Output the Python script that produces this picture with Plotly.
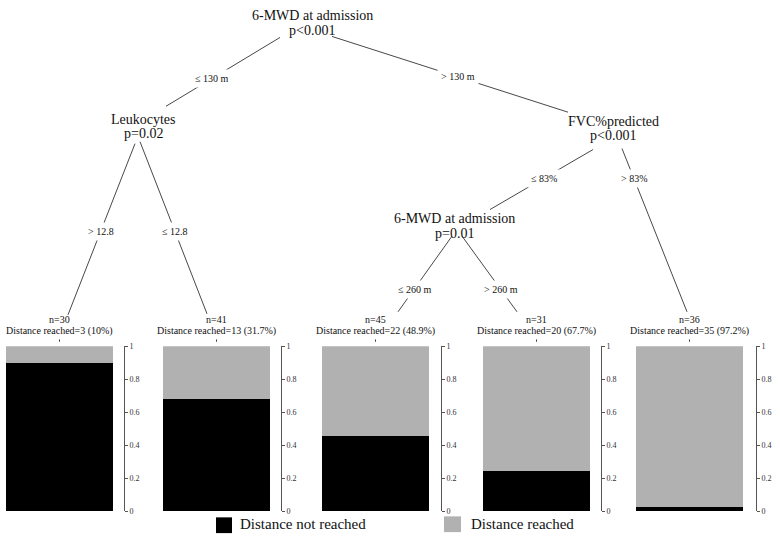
import plotly.graph_objects as go

# ---- data ----
node_names = ["6-MWD at admission", "Leukocytes", "FVC%predicted", "6-MWD at admission"]
node_pvals = ["p<0.001", "p=0.02", "p<0.001", "p=0.01"]
split_labels = ["≤ 130 m", "> 130 m", "> 12.8", "≤ 12.8", "≤ 83%", "> 83%", "≤ 260 m", "> 260 m"]

leaf_n = [30, 41, 45, 31, 36]
leaf_reached = [3, 13, 22, 20, 35]
leaf_pct = ["10%", "31.7%", "48.9%", "67.7%", "97.2%"]
share_not_reached = [0.90, 0.68, 0.455, 0.245, 0.025]
share_reached = [0.10, 0.32, 0.545, 0.755, 0.975]

tick_vals = [0, 0.2, 0.4, 0.6, 0.8, 1]
tick_text = ["0", "0.2", "0.4", "0.6", "0.8", "1"]

# ---- layout in pixels (figure is 780 x 544) ----
W, H = 780, 544
FONT = "'Liberation Serif', 'Times New Roman', serif"
GRAY = "#b1b1b1"

node_xy = [(312, 12), (143, 117), (613, 119), (454, 218)]
edges = [((280, 34), (166, 104)), ((332, 33), (568, 110)),
         ((135, 142), (68, 316)), ((140, 140), (207, 315)),
         ((593, 148), (490, 209)), ((622, 147), (687, 313)),
         ((452, 236), (398, 313)), ((462, 236), (517, 313))]
label_y = [76, 74, 231, 231, 177, 177, 290, 290]

bar_left = [6, 163, 322, 483, 636]
bar_w = 107
axis_x = [124, 281, 441, 601, 756]
bar_top, bar_bottom = 348, 516

fig = go.Figure()

# tree edges
ex, ey = [], []
for (x0, y0), (x1, y1) in edges:
    ex += [x0, x1, None]
    ey += [y0, y1, None]
for left in bar_left:
    c = left + bar_w / 2
    ex += [c, c, None]
    ey += [341, 343.5, None]
fig.add_trace(go.Scatter(x=ex, y=ey, mode="lines", line=dict(color="#333", width=0.9),
                         hoverinfo="skip", showlegend=False, xaxis="x", yaxis="y"))

annotations = []
for (x, y), name, p in zip(node_xy, node_names, node_pvals):
    annotations.append(dict(x=x, y=y, text=name, showarrow=False, xref="x", yref="y",
                            font=dict(family=FONT, size=14, color="#111")))
    annotations.append(dict(x=x, y=y + 15, text=p, showarrow=False, xref="x", yref="y",
                            font=dict(family=FONT, size=14, color="#111")))

# split labels sit on the edge, white box breaks the line
for ((x0, y0), (x1, y1)), lab, ly in zip(edges, split_labels, label_y):
    lx = x0 + (x1 - x0) * (ly - y0) / (y1 - y0)
    annotations.append(dict(x=lx, y=ly, text=lab, showarrow=False, xref="x", yref="y",
                            bgcolor="white", borderpad=3,
                            font=dict(family=FONT, size=10, color="#111")))

layout_axes = {}
for i in range(5):
    k = i + 2
    c = bar_left[i] + bar_w / 2
    annotations.append(dict(x=c, y=321, text=f"n={leaf_n[i]}", showarrow=False,
                            xref="x", yref="y", font=dict(family=FONT, size=10, color="#111")))
    annotations.append(dict(x=c, y=333, text=f"Distance reached={leaf_reached[i]} ({leaf_pct[i]})",
                            showarrow=False, xref="x", yref="y",
                            font=dict(family=FONT, size=10, color="#111")))

    fig.add_trace(go.Bar(x=[0], y=[share_not_reached[i]], width=1, marker=dict(color="black", line_width=0),
                         name="Distance not reached", showlegend=False,
                         xaxis=f"x{k}", yaxis=f"y{k}"))
    fig.add_trace(go.Bar(x=[0], y=[share_reached[i]], width=1, marker=dict(color=GRAY, line_width=0),
                         name="Distance reached", showlegend=False,
                         xaxis=f"x{k}", yaxis=f"y{k}"))

    span = axis_x[i] - bar_left[i]
    layout_axes[f"xaxis{k}"] = dict(domain=[bar_left[i] / W, axis_x[i] / W],
                                    range=[-0.5, -0.5 + span / bar_w],
                                    visible=False, anchor=f"y{k}")
    layout_axes[f"yaxis{k}"] = dict(domain=[(H - bar_bottom) / H, (H - bar_top) / H],
                                    range=[0, 1], side="right", anchor=f"x{k}",
                                    showline=True, linecolor="#555", linewidth=1,
                                    ticks="outside", ticklen=3, tickcolor="#555",
                                    tickvals=tick_vals, ticktext=tick_text,
                                    tickfont=dict(family=FONT, size=8, color="#333"),
                                    showgrid=False, zeroline=False)

# manual legend
shapes = [dict(type="rect", xref="x", yref="y", x0=216, x1=232, y0=522, y1=538,
               fillcolor="black", line_width=0),
          dict(type="rect", xref="x", yref="y", x0=444, x1=461, y0=521, y1=537,
               fillcolor=GRAY, line_width=0)]
annotations.append(dict(x=238, y=529, text="Distance not reached", xanchor="left", showarrow=False,
                        xref="x", yref="y", font=dict(family=FONT, size=15, color="#111")))
annotations.append(dict(x=469, y=529, text="Distance reached", xanchor="left", showarrow=False,
                        xref="x", yref="y", font=dict(family=FONT, size=15, color="#111")))

fig.update_layout(
    width=W, height=H,
    margin=dict(l=0, r=0, t=0, b=0),
    paper_bgcolor="white", plot_bgcolor="white",
    barmode="stack", bargap=0,
    xaxis=dict(domain=[0, 1], range=[0, W], visible=False),
    yaxis=dict(domain=[0, 1], range=[H, 0], visible=False),
    annotations=annotations,
    shapes=shapes,
    showlegend=False,
    **layout_axes,
)

fig.write_html("out.html", config={"displayModeBar": False},
               post_script="document.body.style.margin='0';")
